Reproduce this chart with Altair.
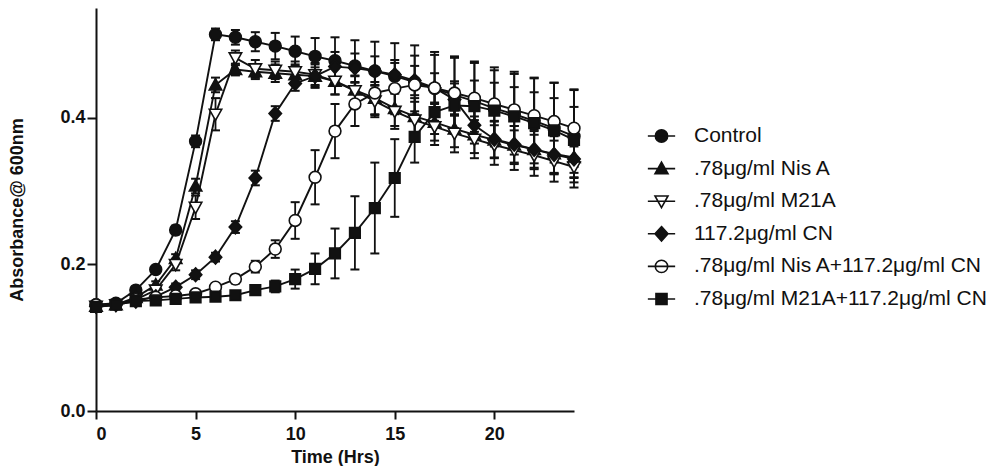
import altair as alt
import pandas as pd

# ---------------- data ----------------
hours = list(range(25))
series_names = [
    "Control",
    ".78μg/ml Nis A",
    ".78μg/ml M21A",
    "117.2μg/ml CN",
    ".78μg/ml Nis A+117.2μg/ml CN",
    ".78μg/ml M21A+117.2μg/ml CN",
]

control = [0.145, 0.147, 0.165, 0.193, 0.247, 0.368, 0.514, 0.510, 0.504, 0.498, 0.491, 0.484, 0.478,
           0.471, 0.464, 0.457, 0.449, 0.440, 0.431, 0.423, 0.413, 0.405, 0.396, 0.386, 0.375]
control_err = [0.003, 0.003, 0.004, 0.005, 0.006, 0.008, 0.008, 0.010, 0.013, 0.018, 0.020, 0.025, 0.032,
               0.035, 0.040, 0.045, 0.050, 0.050, 0.053, 0.052, 0.052, 0.055, 0.058, 0.062, 0.063]

nisa = [0.143, 0.145, 0.155, 0.172, 0.208, 0.307, 0.445, 0.466, 0.463, 0.461, 0.459, 0.457, 0.450,
        0.438, 0.427, 0.413, 0.402, 0.394, 0.385, 0.377, 0.370, 0.363, 0.357, 0.351, 0.346]
nisa_err = [0.003, 0.003, 0.004, 0.005, 0.006, 0.010, 0.010, 0.008, 0.010, 0.012, 0.014, 0.016, 0.018,
            0.020, 0.022, 0.024, 0.025, 0.025, 0.025, 0.025, 0.025, 0.026, 0.027, 0.028, 0.028]

m21a = [0.143, 0.145, 0.152, 0.165, 0.200, 0.278, 0.405, 0.482, 0.467, 0.465, 0.463, 0.459, 0.450,
        0.437, 0.423, 0.409, 0.397, 0.388, 0.379, 0.371, 0.363, 0.356, 0.349, 0.341, 0.333]
m21a_err = [0.003, 0.003, 0.004, 0.005, 0.008, 0.016, 0.022, 0.010, 0.012, 0.012, 0.014, 0.016, 0.018,
            0.020, 0.022, 0.024, 0.025, 0.025, 0.026, 0.026, 0.027, 0.027, 0.028, 0.028, 0.028]

cn = [0.143, 0.145, 0.150, 0.156, 0.169, 0.186, 0.210, 0.251, 0.318, 0.406, 0.447, 0.457, 0.470,
      0.468, 0.464, 0.459, 0.451, 0.441, 0.425, 0.390, 0.371, 0.364, 0.357, 0.350, 0.344]
cn_err = [0.003, 0.003, 0.003, 0.004, 0.005, 0.006, 0.006, 0.008, 0.010, 0.010, 0.010, 0.012, 0.020,
          0.020, 0.020, 0.020, 0.020, 0.020, 0.022, 0.025, 0.025, 0.025, 0.025, 0.025, 0.025]

nisa_cn = [0.145, 0.146, 0.152, 0.155, 0.157, 0.160, 0.169, 0.180, 0.197, 0.221, 0.260, 0.319, 0.382,
           0.419, 0.434, 0.440, 0.445, 0.441, 0.434, 0.427, 0.419, 0.411, 0.403, 0.395, 0.386]
nisa_cn_err = [0.003, 0.003, 0.003, 0.003, 0.004, 0.004, 0.005, 0.006, 0.008, 0.012, 0.025, 0.037, 0.037,
               0.030, 0.030, 0.035, 0.040, 0.045, 0.048, 0.050, 0.050, 0.052, 0.052, 0.053, 0.053]

m21a_cn = [0.142, 0.145, 0.150, 0.151, 0.153, 0.155, 0.156, 0.158, 0.165, 0.170, 0.180, 0.194, 0.215,
           0.243, 0.277, 0.318, 0.374, 0.408, 0.417, 0.416, 0.410, 0.402, 0.393, 0.383, 0.370]
m21a_cn_err = [0.003, 0.003, 0.003, 0.003, 0.004, 0.004, 0.004, 0.005, 0.006, 0.008, 0.013, 0.021, 0.034,
               0.050, 0.062, 0.053, 0.035, 0.030, 0.033, 0.035, 0.038, 0.040, 0.042, 0.044, 0.045]

x_ticks = [0, 5, 10, 15, 20]
y_ticks = [0.0, 0.2, 0.4]

values = [control, nisa, m21a, cn, nisa_cn, m21a_cn]
errors = [control_err, nisa_err, m21a_err, cn_err, nisa_cn_err, m21a_cn_err]

rows = []
for name, vals, errs in zip(series_names, values, errors):
    for h, v, e in zip(hours, vals, errs):
        rows.append({"hour": h, "value": v, "lo": v - e, "hi": v + e, "series": name})
df = pd.DataFrame(rows)
legend_df = pd.DataFrame({"series": series_names, "row": list(range(len(series_names)))})

# ---------------- marker shapes (unit-box svg paths) ----------------
def circle_path(r):
    k = 0.5523 * r
    return (f"M{r},0C{r},{k} {k},{r} 0,{r}C{-k},{r} {-r},{k} {-r},0"
            f"C{-r},{-k} {-k},{-r} 0,{-r}C{k},{-r} {r},{-k} {r},0Z")

marker_paths = [
    circle_path(0.95),
    "M0,-1L1,0.8L-1,0.8Z",
    "M0,1L1,-0.8L-1,-0.8Z",
    "M0,-1.1L1,0L0,1.1L-1,0Z",
    circle_path(0.95),
    "M-0.85,-0.85L0.85,-0.85L0.85,0.85L-0.85,0.85Z",
]
marker_fills = ["#111", "#111", "white", "#111", "white", "#111"]
legend_paths = ["M-2.1,0L2.1,0" + p for p in marker_paths]

INK = "#111"
FONT = "Liberation Sans"

# ---------------- main panel ----------------
x_enc = alt.X("hour:Q", scale=alt.Scale(domain=[0, 24], nice=False, zero=False),
              axis=alt.Axis(values=x_ticks, title="Time (Hrs)", format="d",
                            tickSize=8, labelPadding=6, titlePadding=5))
y_enc = alt.Y("value:Q", scale=alt.Scale(domain=[0, 0.55], nice=False),
              axis=alt.Axis(values=y_ticks, title="Absorbance@ 600nm", format=".1f",
                            tickSize=9, labelPadding=2, titlePadding=33))

base = alt.Chart(df)

lines = base.mark_line(color=INK, strokeWidth=1.9).encode(
    x=x_enc, y=y_enc, detail="series:N", order="hour:Q"
)
bars = base.mark_rule(color=INK, strokeWidth=1.8).encode(
    x="hour:Q", y="lo:Q", y2="hi:Q"
)
caps = base.transform_fold(["lo", "hi"], as_=["end", "yv"]).mark_tick(
    orient="horizontal", color=INK, size=9, thickness=2, opacity=1
).encode(x="hour:Q", y="yv:Q")
points = base.mark_point(size=155, filled=False, stroke=INK, strokeWidth=1.6, opacity=1).encode(
    x="hour:Q", y="value:Q",
    shape=alt.Shape("series:N", scale=alt.Scale(domain=series_names, range=marker_paths), legend=None),
    fill=alt.Fill("series:N", scale=alt.Scale(domain=series_names, range=marker_fills), legend=None),
)

main = alt.layer(lines, bars, caps, points).properties(width=478, height=403)

# ---------------- legend panel ----------------
row_y = alt.Y("row:Q", scale=alt.Scale(domain=[-3.926, 8.436], reverse=True, nice=False, zero=False),
              axis=None)
leg_base = alt.Chart(legend_df)
leg_symbols = leg_base.mark_point(size=169, filled=False, stroke=INK, strokeWidth=1.6, opacity=1).encode(
    x=alt.value(21.5), y=row_y,
    shape=alt.Shape("series:N", scale=alt.Scale(domain=series_names, range=legend_paths), legend=None),
    fill=alt.Fill("series:N", scale=alt.Scale(domain=series_names, range=marker_fills), legend=None),
)
leg_text = leg_base.mark_text(align="left", baseline="middle", font=FONT, fontSize=21, color=INK).encode(
    x=alt.value(54), y="row:Q", text="series:N"
)
legend_panel = alt.layer(leg_symbols, leg_text).properties(width=330, height=403)

chart = alt.hconcat(main, legend_panel, spacing=56).resolve_scale(
    shape="independent", fill="independent"
).properties(padding=0).configure_view(
    stroke=None
).configure_axis(
    grid=False, domainColor=INK, domainWidth=2, tickColor=INK, tickWidth=2,
    labelFont=FONT, labelFontSize=18, labelFontWeight="bold", labelColor=INK,
    titleFont=FONT, titleFontSize=18, titleFontWeight="bold", titleColor=INK,
)

chart.save("out.html", embed_options={"renderer": "svg", "actions": False})
